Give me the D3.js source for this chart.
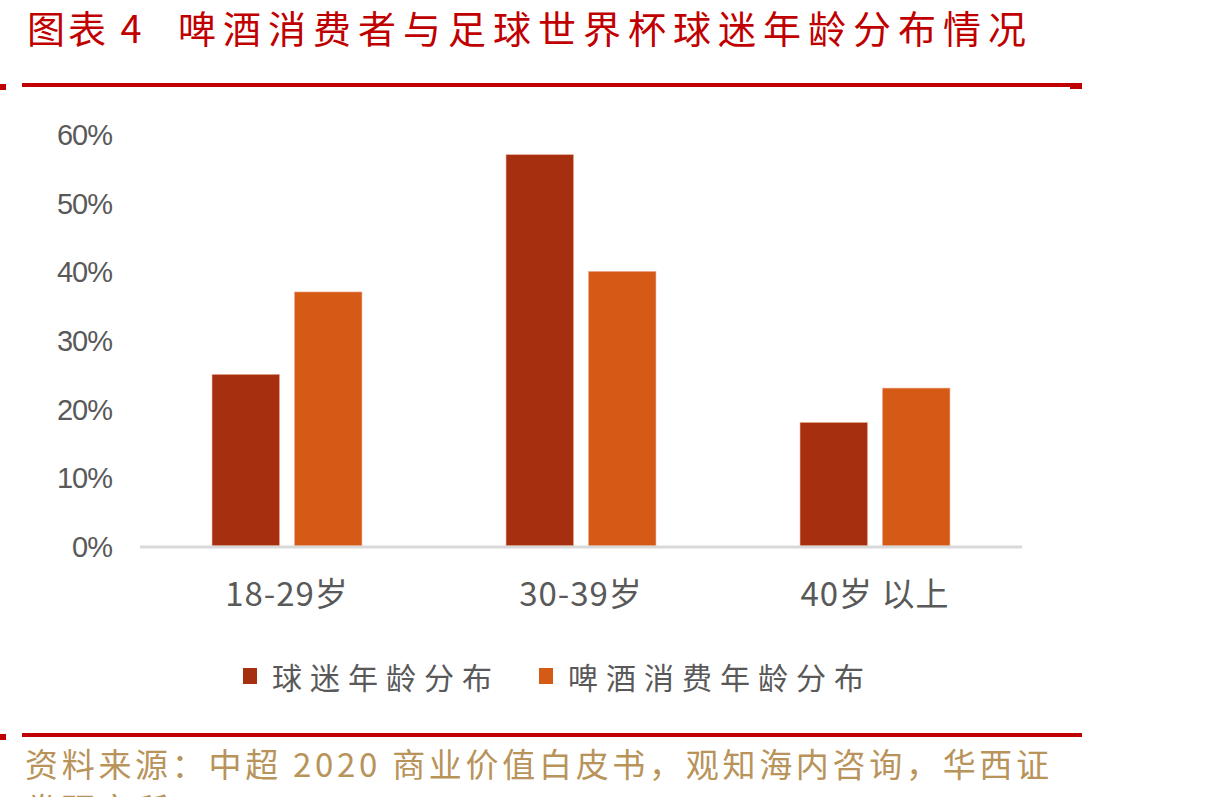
<!DOCTYPE html>
<html>
<head>
<meta charset="utf-8">
<script src="https://cdn.jsdelivr.net/npm/d3@7"></script>
<style>
  body { margin: 0; background: #fff; }
  svg { display: block; }
</style>
</head>
<body>
<div id="chart"></div>
<script>
// chart values
const categories = ["18-29岁", "30-39岁", "40岁 以上"];
const seriesNames = ["球迷年龄分布", "啤酒消费年龄分布"];
const fansValues = [0.25, 0.57, 0.18];
const beerValues = [0.37, 0.40, 0.23];
const yTicks = [0, 0.1, 0.2, 0.3, 0.4, 0.5, 0.6];

const width = 1214, height = 797;
const colors = ["#A52F0F", "#D55A16"];
const cjk = "'Noto Sans CJK SC', sans-serif";
const mixed = "'Liberation Sans Narrow', 'Noto Sans CJK SC', sans-serif";

const svg = d3.select("#chart").append("svg")
    .attr("width", width)
    .attr("height", height);

// title
svg.append("text")
    .attr("x", 27)
    .attr("y", 43)
    .style("font-family", cjk)
    .style("font-size", "38px")
    .style("letter-spacing", "3px")
    .style("fill", "#C00000")
    .text("图表 4");
svg.append("text")
    .attr("x", 178)
    .attr("y", 43)
    .style("font-family", cjk)
    .style("font-size", "38px")
    .style("letter-spacing", "7px")
    .style("fill", "#C00000")
    .text("啤酒消费者与足球世界杯球迷年龄分布情况");

// red rules top and bottom
[85, 735].forEach(y => {
    svg.append("rect").attr("x", 0).attr("y", y - 1).attr("width", 6).attr("height", 6).attr("fill", "#C00000");
    svg.append("rect").attr("x", 22).attr("y", y - 2).attr("width", 1060).attr("height", 4).attr("fill", "#C00000");
});
svg.append("rect").attr("x", 1070).attr("y", 85).attr("width", 12).attr("height", 4).attr("fill", "#C00000");

// plot
const margin = { left: 140, right: 1022, top: 134, bottom: 546 };
const data = categories.map((c, i) => ({ cat: c, values: [fansValues[i], beerValues[i]] }));

const x0 = d3.scaleBand()
    .domain(categories)
    .range([margin.left, margin.right])
    .paddingInner(0.49)
    .paddingOuter(0.245);

const x1 = d3.scaleBand()
    .domain([0, 1])
    .range([0, x0.bandwidth()])
    .paddingInner(0.18);

const y = d3.scaleLinear()
    .domain([0, 0.6])
    .range([margin.bottom, margin.top]);

// y axis labels
const yAxis = svg.append("g")
    .attr("transform", `translate(${margin.left - 28},0)`)
    .call(d3.axisLeft(y).tickValues(yTicks).tickFormat(d3.format(".0%")).tickSize(0).tickPadding(0));
yAxis.select(".domain").remove();
yAxis.selectAll("text")
    .attr("dy", "0.36em")
    .style("font-family", "'Liberation Sans Narrow', 'Liberation Sans', sans-serif")
    .style("font-size", "29px")
    .style("letter-spacing", "-1px")
    .style("fill", "#595959");

// bars
const groups = svg.selectAll(".group")
    .data(data)
    .enter().append("g")
    .attr("class", "group")
    .attr("transform", d => `translate(${x0(d.cat)},0)`);

groups.selectAll("rect")
    .data(d => d.values)
    .enter().append("rect")
    .attr("x", (d, i) => x1(i))
    .attr("y", d => y(d))
    .attr("width", x1.bandwidth())
    .attr("height", d => y(0) - y(d))
    .attr("fill", (d, i) => colors[i])
    .attr("stroke", "#F2B49A")
    .attr("stroke-width", 0.6);

// baseline
svg.append("line")
    .attr("x1", margin.left).attr("x2", margin.right)
    .attr("y1", y(0) + 1).attr("y2", y(0) + 1)
    .attr("stroke", "#D9D9D9")
    .attr("stroke-width", 3);

// x axis labels
const xAxis = svg.append("g")
    .attr("transform", `translate(0,${margin.bottom + 34})`)
    .call(d3.axisBottom(x0).tickSize(0).tickPadding(0));
xAxis.select(".domain").remove();
xAxis.selectAll("text")
    .attr("dy", "0.8em")
    .style("font-family", mixed)
    .style("font-size", "33px")
    .style("letter-spacing", "1px")
    .style("fill", "#595959");

// legend
const legendX = [243, 539];
seriesNames.forEach((name, i) => {
    svg.append("rect")
        .attr("x", legendX[i]).attr("y", 668)
        .attr("width", 14).attr("height", 16)
        .attr("fill", colors[i]);
    svg.append("text")
        .attr("x", legendX[i] + 29).attr("y", 689)
        .style("font-family", cjk)
        .style("font-size", "30px")
        .style("letter-spacing", "8px")
        .style("fill", "#595959")
        .text(name);
});

// source
svg.append("text")
    .attr("x", 25).attr("y", 777)
    .style("font-family", mixed)
    .style("font-size", "33px")
    .style("letter-spacing", "3.7px")
    .style("fill", "#B8935A")
    .text("资料来源：中超 2020 商业价值白皮书，观知海内咨询，华西证");
svg.append("text")
    .attr("x", 25).attr("y", 822)
    .style("font-family", mixed)
    .style("font-size", "33px")
    .style("letter-spacing", "3.7px")
    .style("fill", "#B8935A")
    .text("券研究所");
</script>
</body>
</html>
